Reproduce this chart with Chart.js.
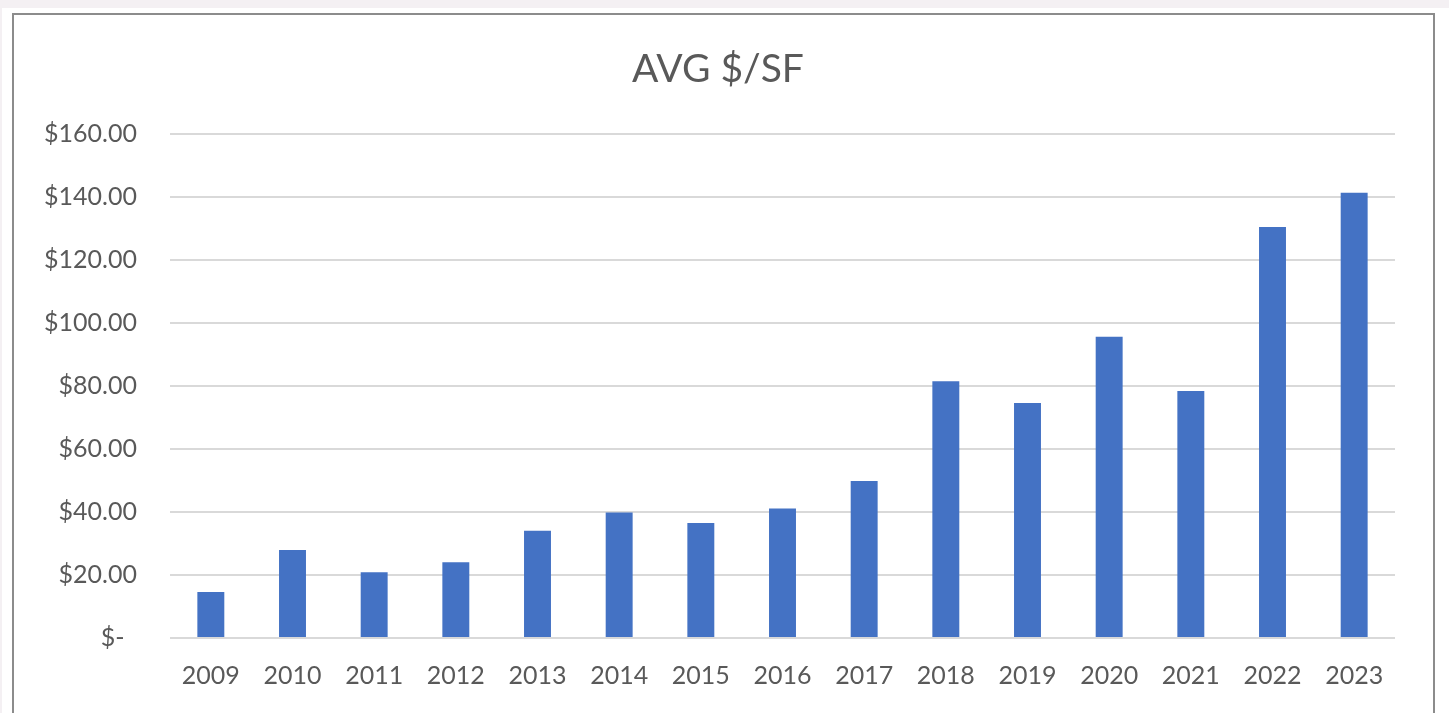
<!DOCTYPE html>
<html>
<head>
<meta charset="utf-8">
<script src="https://cdn.jsdelivr.net/npm/chart.js@4.4.0/dist/chart.umd.min.js"></script>
<style>
    html, body { margin: 0; padding: 0; }
    body { background: #f4f0f3; width: 1449px; height: 713px; overflow: hidden; position: relative; }
    .page { position: absolute; left: 2px; top: 8px; right: 0; bottom: 0; background: #ffffff; }
    .frame { position: absolute; left: 10px; top: 5px; width: 1419px; height: 760px; border: 2px solid #8c8c8c; background: #ffffff; }
    .frame canvas { display: block; }
</style>
</head>
<body>
<div class="page">
    <div class="frame">
        <canvas id="avgChart" width="1419" height="698"></canvas>
    </div>
</div>
<script>
// values
const years = ['2009', '2010', '2011', '2012', '2013', '2014', '2015', '2016',
               '2017', '2018', '2019', '2020', '2021', '2022', '2023'];
const avgPerSf = [14.6, 27.9, 20.9, 24.0, 34.0, 39.8, 36.5, 41.1,
                  49.8, 81.5, 74.6, 95.6, 78.4, 130.4, 141.3];
const yTicks = [0, 20, 40, 60, 80, 100, 120, 140, 160];

const textColor = '#595959';
const fontFamily = 'Lato, "Open Sans", sans-serif';

function money(v) {
    if (v === 0) return '$-\u2002';
    return '$' + v.toFixed(2);
}

const ctx = document.getElementById('avgChart').getContext('2d');

new Chart(ctx, {
    type: 'bar',
    data: {
        labels: years,
        datasets: [{
            label: 'AVG $/SF',
            data: avgPerSf,
            backgroundColor: '#4472c4',
            barPercentage: 0.33,
            categoryPercentage: 1.0
        }]
    },
    options: {
        responsive: false,
        animation: false,
        layout: { padding: { left: 0, right: 11, top: 0, bottom: 0 } },
        plugins: {
            legend: { display: false },
            tooltip: { enabled: false },
            title: {
                display: true,
                text: 'AVG $/SF',
                color: textColor,
                font: { family: fontFamily, size: 39, weight: 'normal' },
                padding: { top: 31, bottom: 41 }
            }
        },
        scales: {
            x: {
                afterFit: scale => { scale.height = 75; },
                grid: { display: false },
                border: { display: false },
                ticks: {
                    color: textColor,
                    font: { family: fontFamily, size: 25 },
                    padding: 15,
                    maxRotation: 0
                }
            },
            y: {
                min: 0,
                max: 160,
                afterBuildTicks: scale => {
                    scale.ticks = yTicks.map(v => ({ value: v }));
                },
                afterFit: scale => { scale.width = 156; },
                grid: { color: '#d9d9d9', lineWidth: 2, drawTicks: false },
                border: { display: false },
                ticks: {
                    color: textColor,
                    font: { family: fontFamily, size: 25 },
                    padding: 33,
                    callback: v => money(v)
                }
            },
            // empty right-hand axis, only keeps the gap on the right of the plot
            yRight: {
                position: 'right',
                min: 0,
                max: 160,
                afterFit: scale => { scale.width = 27; },
                grid: { display: false, drawOnChartArea: false },
                border: { display: false },
                ticks: { display: false }
            }
        }
    }
});
</script>
</body>
</html>
